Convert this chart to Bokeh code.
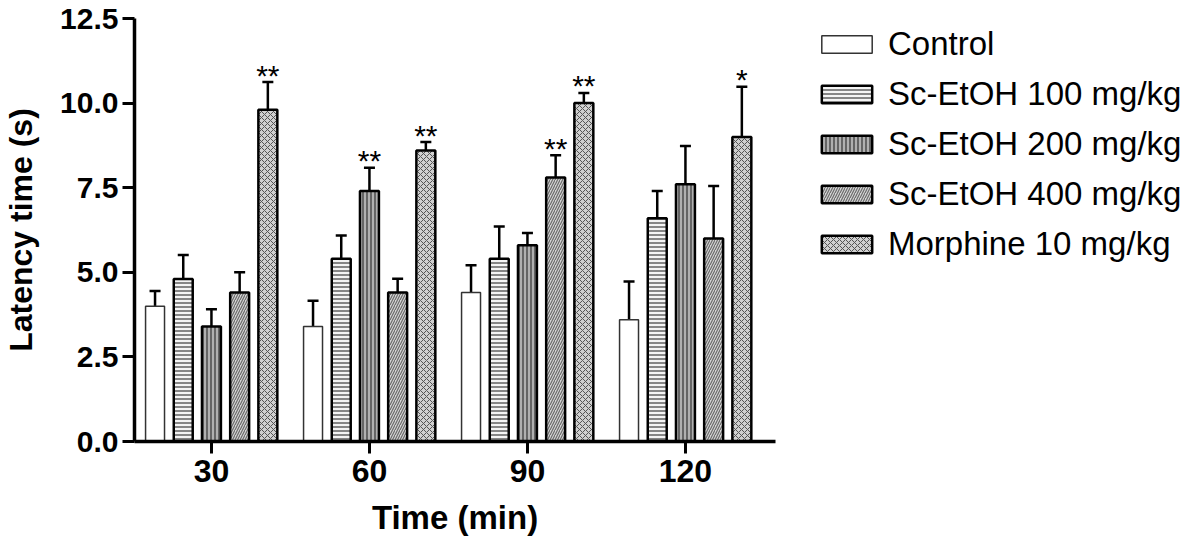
from bokeh.plotting import figure
from bokeh.models import (Range1d, FixedTicker, Legend, LegendItem, Whisker,
                          TeeHead, ColumnDataSource)
from bokeh.core.properties import value
from bokeh.embed import file_html
from bokeh.resources import INLINE

# ---- data ----
times = ["30", "60", "90", "120"]
series = ["Control", "Sc-EtOH 100 mg/kg", "Sc-EtOH 200 mg/kg",
          "Sc-EtOH 400 mg/kg", "Morphine 10 mg/kg"]
control = [4.0, 3.4, 4.4, 3.6]
control_err = [0.45, 0.76, 0.81, 1.13]
ext100 = [4.8, 5.4, 5.4, 6.6]
ext100_err = [0.71, 0.69, 0.95, 0.80]
ext200 = [3.4, 7.4, 5.8, 7.6]
ext200_err = [0.51, 0.69, 0.36, 1.13]
ext400 = [4.4, 4.4, 7.8, 6.0]
ext400_err = [0.60, 0.41, 0.66, 1.55]
morphine = [9.8, 8.6, 10.0, 9.0]
morphine_err = [0.82, 0.25, 0.30, 1.48]
control_sig = ["", "", "", ""]
ext100_sig = ["", "", "", ""]
ext200_sig = ["", "**", "", ""]
ext400_sig = ["", "", "**", ""]
morphine_sig = ["**", "**", "**", "*"]

means = [control, ext100, ext200, ext400, morphine]
errs = [control_err, ext100_err, ext200_err, ext400_err, morphine_err]
sigs = [control_sig, ext100_sig, ext200_sig, ext400_sig, morphine_sig]

styles = [
    dict(fill_color="white", line_color="#333333", line_width=1.5),
    dict(fill_color="#f4f4f4", hatch_pattern="horizontal_line", hatch_color="#555555",
         hatch_scale=4, hatch_weight=1.4, line_color="black", line_width=2.5),
    dict(fill_color="#b0b0b0", hatch_pattern="vertical_line", hatch_color="#444444",
         hatch_scale=4, hatch_weight=1.4, line_color="black", line_width=2.5),
    dict(fill_color="#d4d4d4", hatch_pattern="right_diagonal_line", hatch_color="#6a6a6a",
         hatch_scale=5, hatch_weight=1.2, line_color="black", line_width=2.5),
    dict(fill_color="#d0d0d0", hatch_pattern="diagonal_cross", hatch_color="#555555",
         hatch_scale=6, hatch_weight=1.0, line_color="black", line_width=2.5),
]

FONT = "Liberation Sans"
step = 0.1785
bar_w = 0.12

p = figure(frame_width=641, frame_height=423, output_backend="svg", toolbar_location=None,
           x_range=Range1d(-0.487, 3.57), y_range=Range1d(0, 12.5),
           min_border_left=133, min_border_top=18, min_border_bottom=96,
           min_border_right=0)
p.outline_line_color = None
p.xgrid.visible = False
p.ygrid.visible = False
p.background_fill_color = "white"
p.border_fill_color = "white"

items = []
for i, name in enumerate(series):
    xs = [g + (i - 2) * step for g in range(len(times))]
    up = [m + e for m, e in zip(means[i], errs[i])]
    src = ColumnDataSource(dict(x=xs, top=means[i], upper=up, sig=sigs[i]))
    w = Whisker(base="x", upper="upper", lower="top", source=src, dimension="height",
                line_width=2.5, line_color="black", lower_head=None,
                upper_head=TeeHead(size=11, line_width=2.5, line_color="black"))
    p.add_layout(w)
    r = p.vbar(x="x", top="top", bottom=0, width=bar_w, source=src, **styles[i])
    p.text(x="x", y="upper", text="sig", source=src, text_align="center",
           text_baseline="alphabetic", y_offset=-7, text_font=value(FONT),
           text_font_size="30px", text_color="black")
    items.append(LegendItem(label=name, renderers=[r]))

legend = Legend(items=items, location=(40, 178), padding=0, spacing=12,
                glyph_width=63, glyph_height=22, label_height=37,
                label_standoff=10, label_text_font=FONT,
                label_text_font_size="33px", label_text_color="black",
                border_line_color=None, background_fill_alpha=0, margin=0)
p.add_layout(legend, "right")

# axes
p.xaxis.ticker = FixedTicker(ticks=list(range(len(times))))
p.xaxis.major_label_overrides = {i: t for i, t in enumerate(times)}
p.yaxis.ticker = FixedTicker(ticks=[0, 2.5, 5.0, 7.5, 10.0, 12.5])
p.yaxis.major_label_overrides = {0: "0.0", 2.5: "2.5", 5.0: "5.0", 7.5: "7.5",
                                 10.0: "10.0", 12.5: "12.5"}
for ax in (p.xaxis[0], p.yaxis[0]):
    ax.axis_line_width = 3.5
    ax.axis_line_color = "black"
    ax.major_tick_line_width = 3
    ax.major_tick_line_color = "black"
    ax.major_tick_in = 0
    ax.major_tick_out = 12
    ax.minor_tick_line_color = None
    ax.major_label_text_font = FONT
    ax.major_label_text_font_style = "bold"
    ax.major_label_text_color = "black"
    ax.axis_label_text_font = FONT
    ax.axis_label_text_font_style = "bold"
    ax.axis_label_text_color = "black"
p.xaxis.major_label_text_font_size = "32px"
p.yaxis.major_label_text_font_size = "30px"
p.xaxis.major_label_standoff = 6
p.yaxis.major_label_standoff = 4
p.xaxis.axis_label = "Time (min)"
p.yaxis.axis_label = "Latency time (s)"
p.xaxis.axis_label_text_font_size = "33px"
p.yaxis.axis_label_text_font_size = "32px"
p.xaxis.axis_label_standoff = 14
p.yaxis.axis_label_standoff = 18

open("out.html", "w").write(file_html(p, INLINE))
